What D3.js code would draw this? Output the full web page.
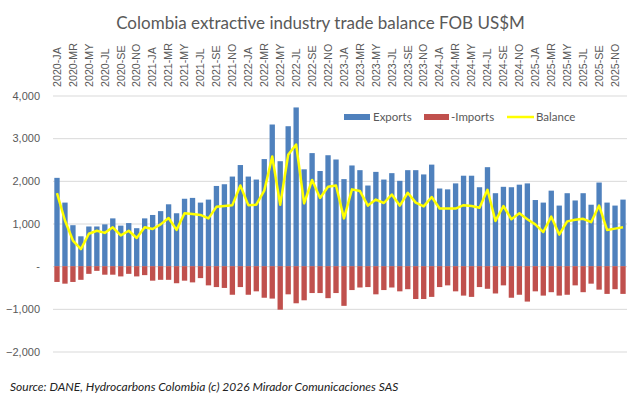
<!DOCTYPE html>
<html>
<head>
<meta charset="utf-8">
<script src="https://cdn.jsdelivr.net/npm/d3@7"></script>
<style>
  body { margin: 0; background: #fff; }
  svg { display: block; font-family: Lato, "Open Sans", sans-serif; }
</style>
</head>
<body>
<svg id="chart" width="641" height="396"></svg>
<script>
const years = [2020, 2021, 2022, 2023, 2024, 2025];
const monthCodes = ["JA", "FE", "MR", "AB", "MY", "JN", "JL", "AG", "SE", "OC", "NO", "DI"];
const categories = years.flatMap(y => monthCodes.map(m => y + "-" + m));

// US$M
const exportsUS = [
  2070, 1490, 960, 700, 930, 930, 980, 1120, 950, 1010, 890, 1120,
  1200, 1290, 1450, 1240, 1580, 1600, 1490, 1560, 1880, 1920, 2100, 2370,
  2100, 2030, 2510, 3320, 2460, 3280, 3720, 2270, 2650, 2230, 2600, 2500,
  2040, 2360, 2250, 1890, 2210, 2030, 2180, 2000, 2250, 2250, 2150, 2380,
  1820, 1800, 1940, 2120, 2120, 1850, 2320, 1710, 1860, 1850, 1910, 1940,
  1550, 1490, 1770, 1420, 1710, 1540, 1710, 1440, 1960, 1490, 1420, 1560
];
const importsUS = [
  -370, -410, -370, -320, -180, -110, -200, -200, -240, -180, -240, -210,
  -340, -320, -320, -400, -340, -380, -280, -450, -490, -510, -670, -490,
  -670, -590, -740, -760, -1020, -660, -870, -800, -630, -630, -750, -630,
  -930, -560, -500, -490, -660, -560, -500, -590, -540, -770, -770, -720,
  -490, -450, -590, -690, -720, -490, -530, -640, -450, -740, -670, -830,
  -590, -690, -610, -690, -670, -450, -610, -410, -550, -650, -540, -650
];
const balanceUS = [
  1710, 1070, 600, 400, 760, 830, 780, 910, 720, 830, 660, 910,
  870, 980, 1130, 850, 1240, 1220, 1200, 1120, 1390, 1410, 1430, 1890,
  1430, 1440, 1770, 2570, 1440, 2610, 2850, 1470, 2020, 1600, 1860, 1890,
  1120, 1800, 1760, 1420, 1560, 1480, 1680, 1420, 1720, 1490, 1400, 1620,
  1350, 1350, 1350, 1430, 1410, 1370, 1790, 1060, 1410, 1100, 1240, 1100,
  980, 800, 1160, 740, 1050, 1090, 1110, 1030, 1420, 850, 880, 910
];
const yTicks = [-2000, -1000, 0, 1000, 2000, 3000, 4000];
const xTickLabels = categories.filter((d, i) => i % 2 === 0);

const svg = d3.select("#chart");
const plotLeft = 53, plotRight = 627, plotTop = 95.5, plotBottom = 351.5;

const x = d3.scaleBand()
  .domain(categories)
  .range([plotLeft, plotRight])
  .paddingInner(0.33)
  .paddingOuter(0.165);

const y = d3.scaleLinear()
  .domain([-2000, 4000])
  .range([plotBottom, plotTop]);

// title
svg.append("text")
  .attr("x", 320.5)
  .attr("y", 29)
  .attr("text-anchor", "middle")
  .attr("fill", "#595959")
  .style("font-size", "17px")
  .text("Colombia extractive industry trade balance FOB US$M");

// y axis with gridlines
const yAxis = svg.append("g")
  .attr("transform", "translate(" + plotLeft + ",0)")
  .call(d3.axisLeft(y)
    .tickValues(yTicks)
    .tickSize(-(plotRight - plotLeft))
    .tickPadding(13)
    .tickFormat(d => d === 0 ? "-" : d3.format(",")(d)));
yAxis.select(".domain").remove();
yAxis.selectAll(".tick line").attr("stroke", "#d9d9d9");
yAxis.selectAll("text")
  .attr("fill", "#595959")
  .style("font-size", "11px");

// month labels along the top
const xAxis = svg.append("g")
  .attr("transform", "translate(0,87)")
  .call(d3.axisTop(x).tickValues(xTickLabels).tickSize(0));
xAxis.select(".domain").remove();
xAxis.selectAll("text")
  .attr("transform", "rotate(-90)")
  .attr("x", 0)
  .attr("y", 0)
  .attr("dy", "0.35em")
  .attr("text-anchor", "start")
  .attr("fill", "#595959")
  .style("font-size", "10.7px");

// bars
svg.append("g").selectAll("rect")
  .data(exportsUS)
  .join("rect")
  .attr("x", (d, i) => x(categories[i]))
  .attr("y", d => y(d))
  .attr("width", x.bandwidth())
  .attr("height", d => y(0) - y(d))
  .attr("fill", "#4f81bd");

svg.append("g").selectAll("rect")
  .data(importsUS)
  .join("rect")
  .attr("x", (d, i) => x(categories[i]))
  .attr("y", y(0))
  .attr("width", x.bandwidth())
  .attr("height", d => y(d) - y(0))
  .attr("fill", "#c0504d");

// balance line
const line = d3.line()
  .x((d, i) => x(categories[i]) + x.bandwidth() / 2)
  .y(d => y(d));

svg.append("path")
  .datum(balanceUS)
  .attr("d", line)
  .attr("fill", "none")
  .attr("stroke", "#ffff00")
  .attr("stroke-width", 2.5)
  .attr("stroke-linejoin", "round");

// legend
const legend = svg.append("g").style("font-size", "11.5px").attr("fill", "#595959");
legend.append("rect").attr("x", 344).attr("y", 114).attr("width", 26).attr("height", 6).attr("fill", "#4f81bd");
legend.append("text").attr("x", 373).attr("y", 121).text("Exports");
legend.append("rect").attr("x", 424).attr("y", 114).attr("width", 25).attr("height", 6).attr("fill", "#c0504d");
legend.append("text").attr("x", 451).attr("y", 121).text("-Imports");
legend.append("line").attr("x1", 507).attr("x2", 534).attr("y1", 117).attr("y2", 117)
  .attr("stroke", "#ffff00").attr("stroke-width", 2.5);
legend.append("text").attr("x", 536).attr("y", 121).text("Balance");

// source
svg.append("text")
  .attr("x", 10)
  .attr("y", 391)
  .attr("fill", "#222")
  .style("font-size", "12px")
  .style("font-style", "italic")
  .text("Source: DANE, Hydrocarbons Colombia (c) 2026 Mirador Comunicaciones SAS");
</script>
</body>
</html>
